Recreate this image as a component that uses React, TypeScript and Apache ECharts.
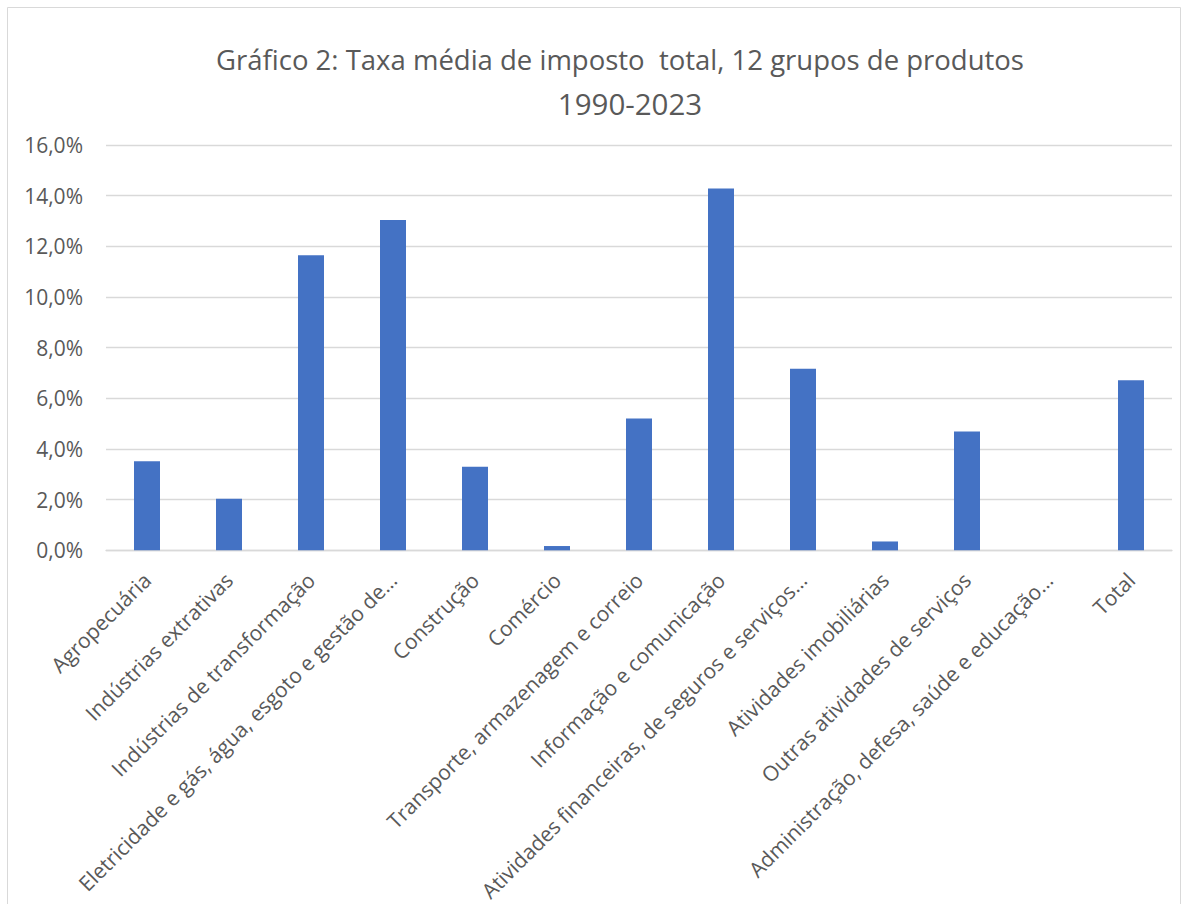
import React, { useEffect, useRef } from "react";
import * as echarts from "echarts";

const titleLine1 = "Gráfico 2: Taxa média de imposto  total, 12 grupos de produtos";
const titleLine2 = "1990-2023";

const categories = [
  "Agropecuária",
  "Indústrias extrativas",
  "Indústrias de transformação",
  "Eletricidade e gás, água, esgoto e gestão de…",
  "Construção",
  "Comércio",
  "Transporte, armazenagem e correio",
  "Informação e comunicação",
  "Atividades financeiras, de seguros e serviços…",
  "Atividades imobiliárias",
  "Outras atividades de serviços",
  "Administração, defesa, saúde e educação…",
  "Total",
];

const values = [3.52, 2.04, 11.65, 13.04, 3.3, 0.17, 5.2, 14.28, 7.17, 0.35, 4.69, 0, 6.71];

const yMin = 0;
const yMax = 16;
const yInterval = 2;

const FONT = "'Open Sans', 'DejaVu Sans', sans-serif";
const TEXT_COLOR = "#595959";

export default function App() {
  const ref = useRef<HTMLDivElement>(null);

  useEffect(() => {
    if (!ref.current) return;
    const chart = echarts.init(ref.current, undefined, { renderer: "svg" });
    chart.setOption({
      animation: false,
      backgroundColor: "#ffffff",
      textStyle: { fontFamily: FONT },
      graphic: [
        {
          type: "rect",
          shape: { x: 7.5, y: 7.5, width: 1173, height: 920 },
          style: { fill: "none", stroke: "#d9d9d9", lineWidth: 1 },
          silent: true,
          z: -1,
        },
        {
          type: "text",
          x: 620,
          y: 59,
          style: {
            text: titleLine1,
            fill: TEXT_COLOR,
            font: `27.5px ${FONT}`,
            textAlign: "center",
            textVerticalAlign: "middle",
          },
        },
        {
          type: "text",
          x: 630,
          y: 103,
          style: {
            text: titleLine2,
            fill: TEXT_COLOR,
            font: `29.5px ${FONT}`,
            textAlign: "center",
            textVerticalAlign: "middle",
          },
        },
      ],
      grid: { left: 106, right: 16, top: 145, bottom: 353, containLabel: false },
      xAxis: {
        type: "category",
        data: categories,
        axisTick: { show: false },
        axisLine: { show: true, lineStyle: { color: "#d9d9d9", width: 1.3 } },
        axisLabel: {
          interval: 0,
          rotate: 45,
          margin: 26,
          color: TEXT_COLOR,
          fontSize: 21,
          fontFamily: FONT,
        },
      },
      yAxis: {
        type: "value",
        min: yMin,
        max: yMax,
        interval: yInterval,
        axisLine: { show: false },
        axisTick: { show: false },
        splitLine: { lineStyle: { color: "#d9d9d9", width: 1.3 } },
        axisLabel: {
          margin: 23,
          color: TEXT_COLOR,
          fontSize: 21,
          fontFamily: FONT,
          formatter: (v: number) => v.toFixed(1).replace(".", ",") + "%",
        },
      },
      series: [
        {
          type: "bar",
          data: values,
          barWidth: 26,
          itemStyle: { color: "#4472C4" },
        },
      ],
    });
    return () => chart.dispose();
  }, []);

  return (
    <div
      ref={ref}
      style={{ position: "absolute", left: 0, top: 0, width: 1188, height: 904 }}
    />
  );
}
